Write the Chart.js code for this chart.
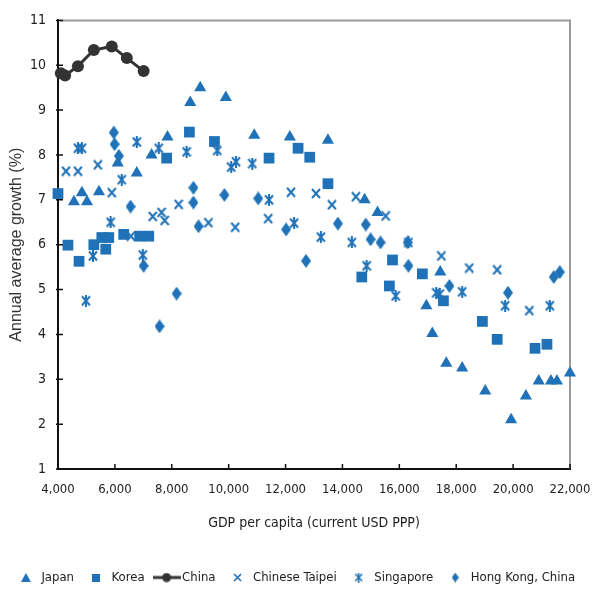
<!DOCTYPE html>
<html lang="en">
<head>
<meta charset="UTF-8">
<title>GDP per capita and annual average growth</title>
<script src="https://cdn.jsdelivr.net/npm/chart.js"></script>
<style>
  body { margin: 0; background: #fff; }
  #wrap { width: 592px; height: 589px; }
</style>
</head>
<body>
<div id="wrap"><canvas id="growthChart"></canvas></div>
<script>
// GDP per capita (current USD PPP) and annual average growth (%)
const japanGdp = [4560, 4840, 5020, 5440, 6100, 6770, 7290, 7850, 8650, 9000, 9900, 10900, 12150, 13490, 14780, 15235, 16950, 17160, 17440, 17650, 18210, 19020, 19930, 20450, 20900, 21330, 21540, 22000];
const japanGrowth = [6.96, 7.16, 6.96, 7.18, 7.82, 7.6, 8.0, 8.4, 9.17, 9.5, 9.28, 8.44, 8.4, 8.33, 7.0, 6.72, 4.64, 4.02, 5.39, 3.36, 3.25, 2.74, 2.1, 2.63, 2.96, 2.96, 2.96, 3.14];

const koreaGdp = [4000, 4350, 4740, 5260, 5540, 5680, 5785, 6310, 6870, 7190, 7820, 8620, 9500, 11420, 12440, 12850, 13490, 14680, 15650, 15760, 16810, 17550, 18920, 19440, 20770, 21190];
const koreaGrowth = [7.14, 5.99, 5.63, 6.0, 6.16, 5.9, 6.16, 6.23, 6.19, 6.19, 7.93, 8.51, 8.3, 7.93, 8.15, 7.95, 7.36, 5.28, 5.08, 5.66, 5.35, 4.75, 4.29, 3.89, 3.69, 3.78];

const chinaGdp = [4100, 4250, 4700, 5260, 5890, 6420, 7010];
const chinaGrowth = [9.82, 9.77, 9.98, 10.34, 10.42, 10.16, 9.87];

const taipeiGdp = [4280, 4700, 5400, 5890, 6560, 7330, 7640, 7750, 8240, 9290, 10230, 11390, 12190, 13070, 13630, 14470, 15520, 17480, 18460, 19440, 20570];
const taipeiGrowth = [7.64, 7.64, 7.78, 7.16, 6.19, 6.63, 6.72, 6.54, 6.9, 6.49, 6.39, 6.58, 7.17, 7.14, 6.89, 7.07, 6.64, 5.75, 5.48, 5.44, 4.53];

const singaporeGdp = [4700, 4840, 4980, 5230, 5850, 6240, 6770, 6980, 7540, 8520, 9600, 10090, 10260, 10830, 11420, 12300, 13240, 14330, 14850, 15870, 16320, 17300, 17420, 18210, 19720, 21290];
const singaporeGrowth = [8.15, 8.15, 4.75, 5.75, 6.5, 7.45, 8.29, 5.77, 8.15, 8.07, 8.1, 7.73, 7.85, 7.81, 7.0, 6.48, 6.17, 6.05, 5.53, 4.86, 6.05, 4.93, 4.9, 4.95, 4.64, 4.64];

const hongKongGdp = [5960, 5990, 6140, 6550, 7010, 7570, 8170, 8760, 8760, 8940, 9850, 11040, 12020, 12720, 13840, 14820, 14990, 15340, 16290, 16320, 17760, 19820, 21430, 21640];
const hongKongGrowth = [8.5, 8.24, 7.98, 6.85, 5.53, 4.18, 4.91, 7.27, 6.94, 6.41, 7.11, 7.03, 6.34, 5.64, 6.47, 6.45, 6.12, 6.05, 6.05, 5.53, 5.08, 4.93, 5.28, 5.39];

const xTicks = [4000, 6000, 8000, 10000, 12000, 14000, 16000, 18000, 20000, 22000];
const yTicks = [1, 2, 3, 4, 5, 6, 7, 8, 9, 10, 11];

const BLUE = '#1f72b8';
const DARK = '#333333';
const NARROW = "'Liberation Sans Narrow', 'Arial Narrow', 'DejaVu Sans Condensed', sans-serif";

function pairs(xs, ys) {
    return xs.map((x, i) => ({ x: x, y: ys[i] }));
}

// small canvases used as marker images
function marker(w, h, draw) {
    const c = document.createElement('canvas');
    c.width = w;
    c.height = h;
    const g = c.getContext('2d');
    g.fillStyle = BLUE;
    g.strokeStyle = BLUE;
    draw(g, w, h);
    return c;
}
function diamond(w, h) {
    return marker(w, h, (g) => {
        g.beginPath();
        g.moveTo(w / 2, 0); g.lineTo(w, h / 2); g.lineTo(w / 2, h); g.lineTo(0, h / 2);
        g.closePath();
        g.fill();
    });
}
function star(w, h, lw) {
    return marker(w, h, (g) => {
        g.lineWidth = lw;
        g.beginPath();
        g.moveTo(1, 1.5); g.lineTo(w - 1, h - 1.5);
        g.moveTo(w - 1, 1.5); g.lineTo(1, h - 1.5);
        g.moveTo(w / 2, 0); g.lineTo(w / 2, h);
        g.stroke();
    });
}
function cross(w, h, lw) {
    return marker(w, h, (g) => {
        g.lineWidth = lw;
        g.beginPath();
        g.moveTo(1, 1); g.lineTo(w - 1, h - 1);
        g.moveTo(w - 1, 1); g.lineTo(1, h - 1);
        g.stroke();
    });
}
const legendMarks = [
    marker(10, 9, (g, w, h) => { g.beginPath(); g.moveTo(w / 2, 0); g.lineTo(w, h); g.lineTo(0, h); g.closePath(); g.fill(); }),
    marker(8, 8, (g, w, h) => g.fillRect(0, 0, w, h)),
    marker(28, 10, (g, w, h) => {
        g.strokeStyle = DARK; g.fillStyle = DARK; g.lineWidth = 3;
        g.beginPath(); g.moveTo(0, h / 2); g.lineTo(w, h / 2); g.stroke();
        g.beginPath(); g.arc(w / 2, h / 2, 4.5, 0, Math.PI * 2); g.fill();
    }),
    cross(9, 9, 1.6),
    star(9, 10, 1.6),
    diamond(7, 10)
];

// inward tick marks and the light top/right frame
const frameAndTicks = {
    id: 'frameAndTicks',
    beforeDatasetsDraw(chart) {
        const { ctx, chartArea } = chart;
        ctx.save();
        ctx.strokeStyle = '#9a9a9a';
        ctx.lineWidth = 2;
        ctx.beginPath();
        ctx.moveTo(chartArea.left, chartArea.top);
        ctx.lineTo(chartArea.right, chartArea.top);
        ctx.lineTo(chartArea.right, chartArea.bottom);
        ctx.stroke();
        ctx.restore();
    },
    afterDraw(chart) {
        const { ctx, chartArea, scales } = chart;
        ctx.save();
        ctx.strokeStyle = '#111';
        ctx.lineWidth = 1.5;
        ctx.beginPath();
        scales.x.ticks.forEach(t => {
            const px = scales.x.getPixelForValue(t.value);
            ctx.moveTo(px, chartArea.bottom);
            ctx.lineTo(px, chartArea.bottom - 5);
        });
        scales.y.ticks.forEach(t => {
            const py = scales.y.getPixelForValue(t.value);
            ctx.moveTo(chartArea.left - 2, py);
            ctx.lineTo(chartArea.left + 5, py);
        });
        ctx.stroke();
        ctx.restore();
    }
};

const ctx = document.getElementById('growthChart').getContext('2d');
const growthChart = new Chart(ctx, {
    type: 'scatter',
    data: {
        datasets: [{
            label: 'Japan',
            data: pairs(japanGdp, japanGrowth),
            pointStyle: 'triangle',
            pointRadius: 7,
            pointBorderWidth: 0,
            backgroundColor: BLUE,
            borderColor: BLUE,
            clip: false
        }, {
            label: 'Korea',
            data: pairs(koreaGdp, koreaGrowth),
            pointStyle: 'rect',
            pointRadius: 7.6,
            pointBorderWidth: 0,
            backgroundColor: BLUE,
            borderColor: BLUE,
            clip: false
        }, {
            label: 'China',
            data: pairs(chinaGdp, chinaGrowth),
            showLine: true,
            borderColor: DARK,
            backgroundColor: DARK,
            borderWidth: 3,
            pointStyle: 'circle',
            pointRadius: 6,
            pointBorderWidth: 0,
            clip: false
        }, {
            label: 'Chinese Taipei',
            data: pairs(taipeiGdp, taipeiGrowth),
            pointStyle: cross(10, 11, 2),
            backgroundColor: BLUE,
            borderColor: BLUE,
            clip: false
        }, {
            label: 'Singapore',
            data: pairs(singaporeGdp, singaporeGrowth),
            pointStyle: star(10, 12, 2),
            backgroundColor: BLUE,
            borderColor: BLUE,
            clip: false
        }, {
            label: 'Hong Kong, China',
            data: pairs(hongKongGdp, hongKongGrowth),
            pointStyle: diamond(10, 14),
            backgroundColor: BLUE,
            borderColor: BLUE,
            clip: false
        }]
    },
    options: {
        responsive: true,
        maintainAspectRatio: false,
        animation: false,
        layout: {
            padding: { top: 19, right: 0, left: 0, bottom: -5 }
        },
        plugins: {
            tooltip: { enabled: false },
            legend: {
                position: 'bottom',
                labels: {
                    usePointStyle: true,
                    pointStyleWidth: 18,
                    padding: 13,
                    color: '#222',
                    font: { family: NARROW, size: 13 },
                    generateLabels(chart) {
                        const items = Chart.defaults.plugins.legend.labels.generateLabels(chart);
                        items.forEach((item, i) => { item.pointStyle = legendMarks[i]; });
                        return items;
                    }
                }
            }
        },
        scales: {
            x: {
                type: 'linear',
                min: 4000,
                max: 22000,
                afterBuildTicks(scale) { scale.ticks = xTicks.map(v => ({ value: v })); },
                afterFit(scale) {
                    scale.height = 89;
                    scale.paddingRight = 22;
                },
                grid: { display: true, drawOnChartArea: false, drawTicks: false },
                border: { color: '#111', width: 2 },
                ticks: {
                    padding: 13,
                    color: '#222',
                    maxRotation: 0,
                    font: { family: NARROW, size: 13 },
                    callback: (v) => v.toLocaleString('en-US')
                },
                title: {
                    display: true,
                    text: 'GDP per capita (current USD PPP)',
                    color: '#222',
                    font: { family: NARROW, size: 14 },
                    padding: { top: 0, bottom: 26 }
                }
            },
            y: {
                type: 'linear',
                min: 1,
                max: 11,
                afterBuildTicks(scale) { scale.ticks = yTicks.map(v => ({ value: v })); },
                afterFit(scale) { scale.width = 58; },
                grid: { display: true, drawOnChartArea: false, drawTicks: false },
                border: { color: '#111', width: 2 },
                ticks: {
                    padding: 12,
                    color: '#222',
                    font: { family: NARROW, size: 14 }
                },
                title: {
                    display: true,
                    text: 'Annual average growth (%)',
                    color: '#333',
                    font: { family: "'Liberation Sans', Arial, sans-serif", size: 16 },
                    padding: { top: 7, bottom: 0 }
                }
            }
        }
    },
    plugins: [frameAndTicks]
});
</script>
</body>
</html>
